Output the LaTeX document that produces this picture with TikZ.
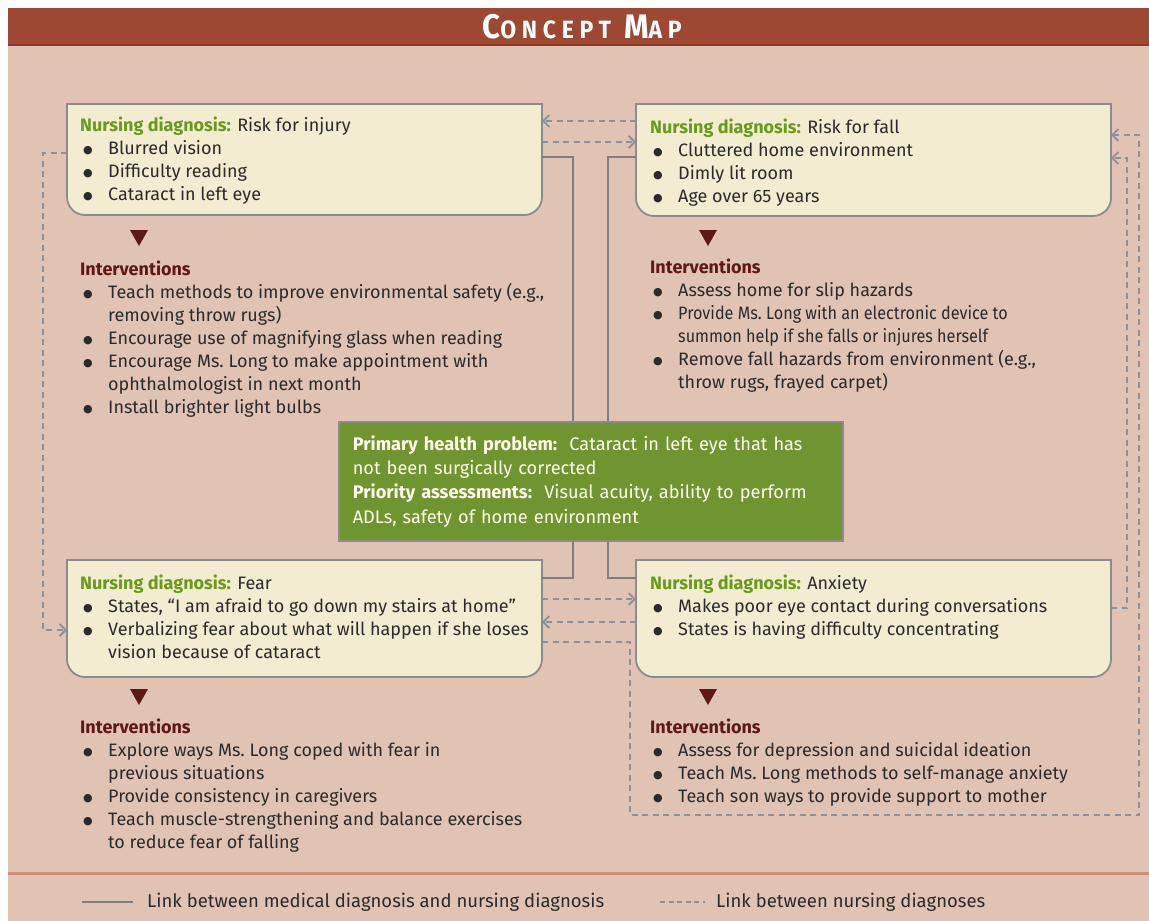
\documentclass[tikz,border=0pt]{standalone}
\usepackage{fontspec}
\setmainfont{Fira Sans}
\newfontfamily\bulfont{DejaVu Sans}
\usetikzlibrary{arrows.meta,calc,positioning}

\definecolor{headred}{HTML}{9C4833}
\definecolor{headrule}{HTML}{8A3A26}
\definecolor{mapback}{HTML}{E0C3B3}
\definecolor{footrule}{HTML}{C9907B}
\definecolor{boxfill}{HTML}{F2ECD0}
\definecolor{boxgrey}{HTML}{8C8C8C}
\definecolor{probgreen}{HTML}{6E9530}
\definecolor{dxgreen}{HTML}{6A9A1C}
\definecolor{intbrown}{HTML}{5C1A12}
\definecolor{linkgrey}{HTML}{8A9198}
\definecolor{medgrey}{HTML}{7F7F7F}
\definecolor{bodytext}{HTML}{2B2B2B}

\newcommand{\bodyfont}{\fontsize{18}{23}\selectfont}
\newcommand{\itm}{\makebox[28pt][l]{\hspace{3pt}\raisebox{1.5pt}{\bulfont\fontsize{11}{0}\selectfont ●}}}
\newcommand{\ind}{\hspace*{28pt}}
\newcommand{\dxlabel}[1]{{\color{dxgreen}\bfseries Nursing diagnosis:} #1}
\newcommand{\inthead}{{\color{intbrown}\bfseries Interventions}}
% frame with square top and rounded bottom corners
\newcommand{\dxframe}[1]{%
  \draw[dxline] (#1.north west) -- (#1.north east)
    -- ($(#1.south east)+(0,-18)$) arc[start angle=0, end angle=-90, radius=18pt]
    -- ($(#1.south west)+(18,0)$) arc[start angle=270, end angle=180, radius=18pt]
    -- cycle;
}
% small triangle pointing to the interventions
\newcommand{\pointer}[2]{%
  \fill[intbrown] ($(#1.south west)+(63,#2)$) -- ++(18,0) -- ++(-9,16) -- cycle;
}

\begin{document}
\begin{tikzpicture}[
    x=1pt, y=-1pt,
    dxbox/.style={minimum width=475pt, inner sep=0pt, outer sep=0pt, anchor=north west},
    dxline/.style={draw=boxgrey, line width=1.8pt, fill=boxfill},
    blk/.style={anchor=north west, inner sep=0pt, align=left, font=\bodyfont, text=bodytext},
    probbox/.style={draw=boxgrey, line width=1.6pt, fill=probgreen, anchor=north west,
      minimum width=504pt, minimum height=119pt, inner xsep=14pt, text width=476pt,
      align=left, text=white!93!yellow, font=\fontsize{18.2}{24.3}\selectfont},
    medlink/.style={draw=medgrey, line width=1.8pt},
    dxlink/.style={draw=linkgrey, line width=1.8pt, dash pattern=on 6pt off 4.5pt,
      -{Straight Barb[length=6pt, width=12pt]}},
    legtxt/.style={anchor=west, inner sep=0pt, font=\fontsize{18.5}{23}\selectfont, text=bodytext},
]
\useasboundingbox (0,0) rectangle (1149,921);

% ---------- background and title bar ----------
\fill[mapback] (8,45) rectangle (1149,921);
\fill[headred] (8,8) rectangle (1149,45);
\draw[headrule, line width=2pt] (8,45) -- (1149,45);
\draw[footrule, line width=3pt] (8,873) -- (1149,873);
\node[text=white, font=\bfseries] (title) at (582,27) {\scalebox{0.92}[1]{\addfontfeatures{LetterSpace=25}%
  {\fontsize{34}{34}\selectfont C}{\fontsize{25}{25}\selectfont ONCEPT}\hspace{14pt}%
  {\fontsize{34}{34}\selectfont M}{\fontsize{25}{25}\selectfont AP}}};

% ---------- diagnosis boxes ----------
\node[dxbox, minimum height=111pt] (injury)  at (67,104)  {};
\node[dxbox, minimum height=112pt] (fall)    at (636,104) {};
\node[dxbox, minimum height=117pt] (fear)    at (67,560)  {};
\node[dxbox, minimum height=117pt] (anxiety) at (636,560) {};
\dxframe{injury}
\dxframe{fall}
\dxframe{fear}
\dxframe{anxiety}

\pointer{injury}{15}
\pointer{fall}{14}
\pointer{fear}{12}
\pointer{anxiety}{12}

% ---------- Risk for injury ----------
\node[blk, below right=11.4pt and 13pt of injury.north west] (injurytxt) {\strut\dxlabel{Risk for injury}\\
  \itm Blurred vision\\
  \itm Difficulty reading\\
  \itm Cataract in left eye};
\node[blk, below right=44.4pt and 13pt of injury.south west] (injuryint) {\strut\inthead\\
  \itm Teach methods to improve environmental safety (e.g.,\\
  \ind removing throw rugs)\\
  \itm Encourage use of magnifying glass when reading\\
  \itm Encourage Ms.~Long to make appointment with\\
  \ind ophthalmologist in next month\\
  \itm Install brighter light bulbs};

% ---------- Risk for fall ----------
\node[blk, below right=13.4pt and 14pt of fall.north west] (falltxt) {\strut\dxlabel{Risk for fall}\\
  \itm Cluttered home environment\\
  \itm Dimly lit room\\
  \itm Age over 65 years};
\node[blk, below right=41.4pt and 14pt of fall.south west] (fallint) {\strut\inthead\\
  \itm Assess home for slip hazards\\
  \itm \scalebox{0.9}[1]{Provide Ms.~Long with an electronic device to}\\
  \ind \scalebox{0.9}[1]{summon help if she falls or injures herself}\\
  \itm Remove fall hazards from environment (e.g.,\\
  \ind throw rugs, frayed carpet)};

% ---------- Fear ----------
\node[blk, below right=13.4pt and 13pt of fear.north west] (feartxt) {\strut\dxlabel{Fear}\\
  \itm States, ``I am afraid to go down my stairs at home''\\
  \itm Verbalizing fear about what will happen if she loses\\
  \ind vision because of cataract};
\node[blk, below right=40.4pt and 13pt of fear.south west] (fearint) {\strut\inthead\\
  \itm Explore ways Ms.~Long coped with fear in\\
  \ind previous situations\\
  \itm Provide consistency in caregivers\\
  \itm Teach muscle-strengthening and balance exercises\\
  \ind to reduce fear of falling};

% ---------- Anxiety ----------
\node[blk, below right=13.4pt and 14pt of anxiety.north west] (anxietytxt) {\strut\dxlabel{Anxiety}\\
  \itm Makes poor eye contact during conversations\\
  \itm States is having difficulty concentrating};
\node[blk, below right=40.4pt and 14pt of anxiety.south west] (anxietyint) {\strut\inthead\\
  \itm Assess for depression and suicidal ideation\\
  \itm Teach Ms.~Long methods to self-manage anxiety\\
  \itm Teach son ways to provide support to mother};

% ---------- medical problem in the middle ----------
\node[probbox] (problem) at (338,421) {{\bfseries Primary health problem:}\ \ Cataract in left eye that has\\
  not been surgically corrected\\
  {\bfseries Priority assessments:}\ \ Visual acuity, ability to perform\\
  ADLs, safety of home environment};

% solid links: medical diagnosis -- nursing diagnoses
\draw[medlink] ($(injury.north east)+(0,53)$) -| ($(problem.north)+(-18,0)$);
\draw[medlink] ($(fall.north west)+(0,53)$) -| ($(problem.north)+(17,0)$);
\draw[medlink] ($(fear.north east)+(0,18)$) -| ($(problem.south)+(-18,0)$);
\draw[medlink] ($(anxiety.north west)+(0,18)$) -| ($(problem.south)+(17,0)$);

% dashed links between nursing diagnoses
\coordinate (loopsw) at (630,815);
\coordinate (loopse) at (1139,815);
\draw[dxlink] ($(fall.north west)+(0,17)$) -- ($(injury.north east)+(0,17)$);
\draw[dxlink] ($(injury.north east)+(0,38)$) -- ($(fall.north west)+(0,38)$);
\draw[dxlink] ($(injury.north west)+(0,49)$) -- ++(-24,0) |- ($(fear.north west)+(0,70)$);
\draw[dxlink] ($(fear.north east)+(0,39)$) -- ($(anxiety.north west)+(0,39)$);
\draw[dxlink] ($(anxiety.north west)+(0,62)$) -- ($(fear.north east)+(0,62)$);
\draw[dxlink] ($(anxiety.north east)+(0,48)$) -- ++(16,0) |- ($(fall.north east)+(0,54)$);
\draw[dxlink] ($(fear.north east)+(0,82)$) -| (loopsw) -- (loopse) |- ($(fall.north east)+(0,31)$);

% ---------- legend ----------
\coordinate (legmed) at (82,902);
\coordinate (legdx) at (660,902);
\draw[medlink] (legmed) -- ++(51,0);
\node[legtxt] (legmedtxt) at (147,902) {Link between medical diagnosis and nursing diagnosis};
\draw[medlink, linkgrey, dash pattern=on 5pt off 3.5pt] (legdx) -- ++(45,0);
\node[legtxt] (legdxtxt) at (716,902) {Link between nursing diagnoses};

\end{tikzpicture}
\end{document}
